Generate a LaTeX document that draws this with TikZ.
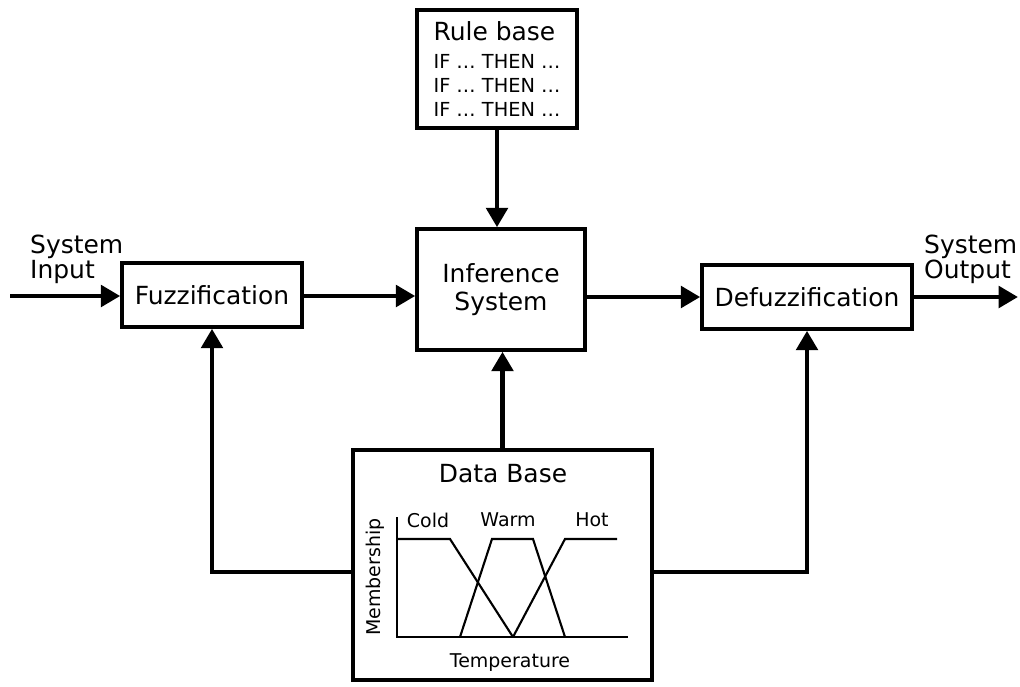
\documentclass[tikz,border=0pt]{standalone}
\usepackage{fontspec}
\setmainfont{DejaVu Sans}
\usetikzlibrary{arrows.meta,shadows}
\begin{document}
\begin{tikzpicture}[x=0.02cm,y=-0.02cm,
	box/.style={draw,line width=2pt,fill=white,inner sep=0pt,
		drop shadow={shadow xshift=0.9pt,shadow yshift=-0.9pt,opacity=0.35}},
	arr/.style={line width=2.8pt,-{Triangle[length=11pt,width=12pt]}},
	curve/.style={line width=1.2pt},
	big/.style={font=\fontsize{14.2}{16}\selectfont},
	small/.style={font=\fontsize{10.8}{13}\selectfont}]
			\useasboundingbox (0,0) rectangle (1020,686);
			% blocks
			\node[box,minimum width=3.2cm,minimum height=2.36cm,align=left,font=\fontsize{11}{13.6}\selectfont] (rule) at (497,69)
				{{\fontsize{14.2}{16}\selectfont Rule base}\\[2.2pt]
				IF … THEN …\\
				IF … THEN …\\
				IF … THEN …};
			\node[box,big,minimum width=3.36cm,minimum height=2.42cm,align=center] (inf) at (501,289.5) {Inference\\System};
			\node[box,big,minimum width=3.6cm,minimum height=1.28cm] (fuzz) at (212,295) {Fuzzification};
			\node[box,big,minimum width=4.2cm,minimum height=1.28cm] (defuzz) at (807,297) {Defuzzification};
			\node[box,minimum width=5.98cm,minimum height=4.6cm] (db) at (502.5,565) {};
			\node[big] (dbtitle) at (503,474) {Data Base};
			% membership functions
			\draw[curve] (397,517) -- (397,637) -- (628,637);
			\draw[curve] (397,539) -- (450,539) -- (513,637);
			\draw[curve] (460,637) -- (492,539) -- (533,539) -- (565,637);
			\draw[curve] (513,637) -- (565,539) -- (617,539);
			\node[small] (cold) at (428,520) {Cold};
			\node[small] (warm) at (508,520) {Warm};
			\node[small] (hot) at (592,520) {Hot};
			\node[small,rotate=90] (memb) at (375,577) {Membership};
			\node[small] (temp) at (510,663) {Temperature};
			% input and output
			\coordinate (in) at (10,296);
			\coordinate (out) at (1018,297);
			\node[font=\fontsize{14.2}{14}\selectfont,align=left,anchor=north west] (inlabel) at (24,229) {System\\Input};
			\node[font=\fontsize{14.2}{14}\selectfont,align=left,anchor=north west] (outlabel) at (918,229) {System\\Output};
			% connectors
			\draw[arr] (in) -- (in -| fuzz.west);
			\draw[arr] (fuzz.east |- in) -- (in -| inf.west);
			\draw[arr] (inf.east |- defuzz.west) -- (defuzz.west);
			\draw[arr] (defuzz.east) -- (out);
			\draw[arr] (rule.south) -- (rule.south |- inf.north);
			\draw[arr] (db.north) -- (db.north |- inf.south);
			\draw[arr] ([yshift=-0.14cm]db.west) -| (fuzz.south);
			\draw[arr] ([yshift=-0.14cm]db.east) -| (defuzz.south);
\end{tikzpicture}
\end{document}
